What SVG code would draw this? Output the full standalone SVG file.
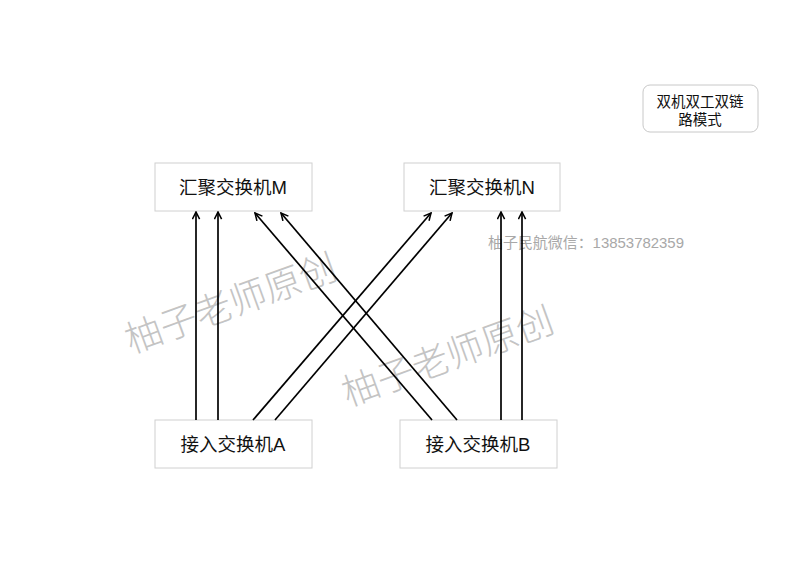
<svg xmlns="http://www.w3.org/2000/svg" width="800" height="566" viewBox="0 0 800 566">
<style>
.box{fill:#fff;stroke:#d0d0d0;stroke-width:1}
.lbl{font-family:"Liberation Sans","Noto Sans CJK SC",sans-serif;font-size:18.5px;fill:#111;text-anchor:middle}
.note{font-family:"Liberation Sans","Noto Sans CJK SC",sans-serif;font-size:14.5px;fill:#111;text-anchor:middle}
.wm{font-family:"Liberation Sans","Noto Sans CJK SC",sans-serif;font-size:37px;fill:#c4c4c4;text-anchor:middle;font-weight:300}
.wm2{font-family:"Liberation Sans","Noto Sans CJK SC",sans-serif;font-size:14.5px;fill:#a8a8a8}
.c{stroke:#000;stroke-width:1.7;fill:none;marker-end:url(#ah)}
</style>
<defs>
<marker id="ah" viewBox="0 0 10 10" refX="9" refY="5" markerWidth="9" markerHeight="9" markerUnits="userSpaceOnUse" orient="auto">
<path d="M1,1 L9,5 L1,9" fill="none" stroke="#000" stroke-width="1.7"/>
</marker>
</defs>
<rect width="800" height="566" fill="#fff"/>
<g id="watermarks">
<text class="wm" transform="translate(231,304) rotate(-20)" dominant-baseline="central">柚子老师原创</text>
<text class="wm" transform="translate(448,357) rotate(-20)" dominant-baseline="central">柚子老师原创</text>
<text class="wm2" x="488" y="248" textLength="196" lengthAdjust="spacingAndGlyphs">柚子民航微信：13853782359</text>
</g>
<g id="note">
<rect x="643" y="85" width="115" height="47" rx="7" fill="#fff" stroke="#c8c8c8"/>
<text class="note" x="700" y="107">双机双工双链</text>
<text class="note" x="700" y="125">路模式</text>
</g>
<g id="nodeM">
<rect class="box" x="155" y="163" width="157" height="48"/>
<text class="lbl" x="233" y="194">汇聚交换机M</text>
</g>
<g id="nodeN">
<rect class="box" x="404" y="163" width="156" height="48"/>
<text class="lbl" x="482" y="194">汇聚交换机N</text>
</g>
<g id="nodeA">
<rect class="box" x="155" y="420" width="157" height="48"/>
<text class="lbl" x="233" y="451">接入交换机A</text>
</g>
<g id="nodeB">
<rect class="box" x="400" y="420" width="157" height="48"/>
<text class="lbl" x="478" y="451">接入交换机B</text>
</g>
<g id="connectors">
<line class="c" x1="196" y1="420" x2="196" y2="212"/>
<line class="c" x1="218" y1="420" x2="218" y2="212"/>
<line class="c" x1="253" y1="420" x2="431" y2="213"/>
<line class="c" x1="275" y1="420" x2="452" y2="213"/>
<line class="c" x1="432" y1="420" x2="255" y2="213"/>
<line class="c" x1="457" y1="420" x2="281" y2="213"/>
<line class="c" x1="501" y1="420" x2="501" y2="212"/>
<line class="c" x1="522" y1="420" x2="522" y2="212"/>
</g>
</svg>
